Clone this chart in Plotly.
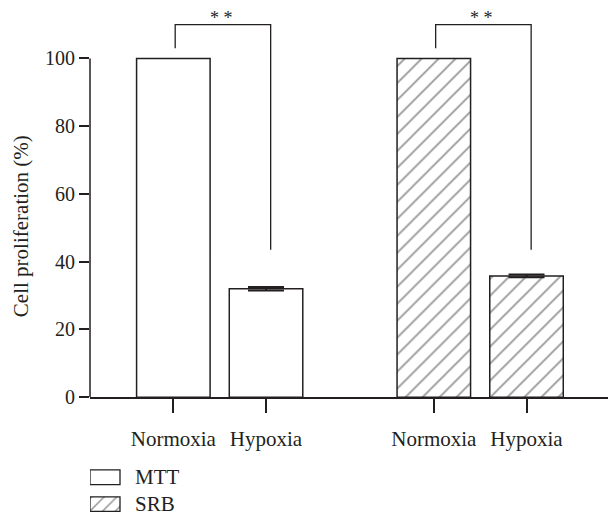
import plotly.graph_objects as go

# ---- data ----
conditions = ["Normoxia", "Hypoxia"]
assays = ["MTT", "SRB"]
mtt_values = [100, 32.0]
mtt_errors = [0, 0.5]
srb_values = [100, 35.8]
srb_errors = [0, 0.4]
sig_labels = ["* *", "* *"]
y_ticks = [0, 20, 40, 60, 80, 100]
y_title = "Cell proliferation (%)"

# ---- layout constants ----
W, H = 608, 523
L = 90
FONT = "Liberation Serif"
INK = "#231f20"
HATCH = "#2a2a2a"
group_offsets = [0.0, 2.81]
bar_w = 0.793
y_top = 117.25

series = [(mtt_values, mtt_errors, ""), (srb_values, srb_errors, "/")]

fig = go.Figure()
xs_all, labels_all = [], []
for gi, (vals, errs, pat) in enumerate(series):
    for ci, cond in enumerate(conditions):
        x = group_offsets[gi] + ci
        xs_all.append(x)
        labels_all.append(cond)
        err = None
        if errs[ci] > 0:
            err = dict(type="data", array=[errs[ci]], symmetric=True, color=INK,
                       thickness=2, width=18)
        fig.add_trace(go.Bar(
            x=[x], y=[vals[ci]], width=bar_w, name=assays[gi], showlegend=False,
            marker=dict(color="white", line=dict(color=INK, width=1.5),
                        pattern=dict(shape=pat, fgcolor=HATCH, bgcolor="white",
                                     size=12, solidity=0.14)),
            error_y=err if err else dict(visible=False),
            xaxis="x", yaxis="y",
        ))

# significance brackets
shapes = []
annotations = []
for gi, (vals, errs, pat) in enumerate(series):
    x1 = group_offsets[gi] + 0.02
    x2 = group_offsets[gi] + 1 + 0.05
    ytop = 110.0
    shapes.append(dict(type="path", xref="x", yref="y",
                       path=f"M {x1},{vals[0]+3} L {x1},{ytop} L {x2},{ytop} L {x2},{43.5}",
                       line=dict(color=INK, width=1.3)))
    annotations.append(dict(x=(x1 + x2) / 2 - 0.02, y=ytop, xref="x", yref="y",
                            text=sig_labels[gi], showarrow=False, yanchor="bottom",
                            yshift=-5, font=dict(family=FONT, size=18, color=INK)))

# y axis line from 0 to 100
shapes.append(dict(type="line", xref="paper", yref="y", x0=0, x1=0, y0=0, y1=100,
                   line=dict(color=INK, width=1.5)))

# y title
annotations.append(dict(x=(21 - L) / (W - L), y=1 - 231 / H, xref="paper", yref="paper",
                        text=y_title, textangle=-90, showarrow=False,
                        xanchor="center", yanchor="middle",
                        font=dict(family=FONT, size=21, color=INK)))

# legend swatches (auxiliary axes)
for ai, a in enumerate(assays):
    fig.add_trace(go.Bar(
        y=[a], x=[1], base=0, orientation="h", width=0.545, showlegend=False,
        cliponaxis=False,
        marker=dict(color="white", line=dict(color=INK, width=1.3),
                    pattern=dict(shape=series[ai][2], fgcolor=HATCH, bgcolor="white",
                                 size=9, solidity=0.17)),
        xaxis="x2", yaxis="y2",
    ))
    annotations.append(dict(x=1, y=a, xref="x2", yref="y2", text=a, showarrow=False,
                            xanchor="left", yanchor="middle", xshift=13,
                            font=dict(family=FONT, size=21, color=INK)))

fig.update_layout(
    width=W, height=H,
    margin=dict(l=L, r=0, t=0, b=0),
    paper_bgcolor="white", plot_bgcolor="white",
    barmode="overlay",
    font=dict(family=FONT, color=INK),
    xaxis=dict(domain=[0, 1], range=[-0.899, 4.689], anchor="y",
               tickmode="array", tickvals=xs_all, ticktext=labels_all,
               ticks="outside", ticklen=14, tickwidth=1.5, tickcolor=INK,
               ticklabelstandoff=8,
               showline=True, linecolor=INK, linewidth=1.5,
               showgrid=False, zeroline=False,
               tickfont=dict(family=FONT, size=21, color=INK)),
    yaxis=dict(domain=[(H - 405.7) / H, 1], range=[0, y_top], anchor="x",
               tickmode="array", tickvals=y_ticks,
               ticks="outside", ticklen=10, tickwidth=1.5, tickcolor=INK,
               showline=False, showgrid=False, zeroline=False,
               tickfont=dict(family=FONT, size=20, color=INK)),
    xaxis2=dict(domain=[0, 32 / (W - L)], range=[0, 1.0667], anchor="y2",
                visible=False),
    yaxis2=dict(domain=[0, 53 / H], range=[-0.291, 1.636], anchor="x2",
                type="category", categoryorder="array", categoryarray=["SRB", "MTT"],
                visible=False),
    shapes=shapes,
    annotations=annotations,
)

fig.write_html("out.html")
